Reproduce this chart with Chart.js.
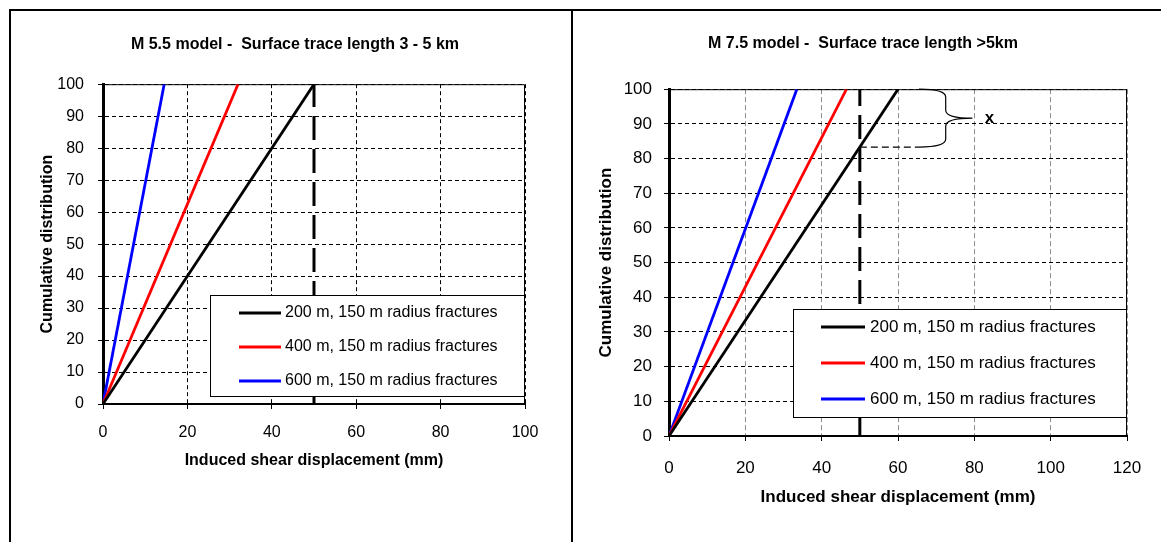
<!DOCTYPE html>
<html>
<head>
<meta charset="utf-8">
<script src="https://cdn.jsdelivr.net/npm/chart.js@4.4.1/dist/chart.umd.min.js"></script>
<style>
  html, body { margin: 0; padding: 0; background: #fff; }
  body { width: 1161px; height: 542px; position: relative; overflow: hidden; }
  canvas { position: absolute; top: 0; }
  #leftChart { left: 0; }
  #rightChart { left: 572px; }
  .rule { position: absolute; background: #000; z-index: 2; }
</style>
</head>
<body>
<div class="rule" style="left:9px;top:9px;width:1152px;height:2px"></div>
<div class="rule" style="left:9px;top:9px;width:2px;height:533px"></div>
<div class="rule" style="left:571px;top:9px;width:2px;height:533px"></div>
<canvas id="leftChart" width="572" height="542"></canvas>
<canvas id="rightChart" width="589" height="542"></canvas>
<script>
// cumulative distribution (%) at both ends of every line
const cumulative = [0, 100];
const seriesLabels = ['200 m, 150 m radius fractures', '400 m, 150 m radius fractures', '600 m, 150 m radius fractures'];
const seriesColors = ['#000000', '#ff0000', '#0000ff'];

// M 5.5 model - induced shear displacement (mm)
const m55Disp200 = [0, 50];
const m55Disp400 = [0, 32];
const m55Disp600 = [0, 14.5];

// M 7.5 model - induced shear displacement (mm)
const m75Disp200 = [0, 60];
const m75Disp400 = [0, 46.5];
const m75Disp600 = [0, 33.5];

// 50 mm limit (vertical dashed line)
const limitDisp = [50, 50];

const yTicks = [0, 10, 20, 30, 40, 50, 60, 70, 80, 90, 100];
const m55XTicks = [0, 20, 40, 60, 80, 100];
const m75XTicks = [0, 20, 40, 60, 80, 100, 120];

// brace "x" on the M 7.5 chart: share of 200 m line above the limit
const braceRange = [83.3, 100];
const braceX = [65.5, 72.5, 79.5];
const braceLabel = 'x';
const braceLabelPos = [84, 91.5];

const FONT = "'Liberation Sans', Arial, sans-serif";

function toPoints(xs, ys) {
    return xs.map((x, i) => ({ x: x, y: ys[i] }));
}

function buildDatasets(dispArrays) {
    const sets = dispArrays.map((d, i) => ({
        label: seriesLabels[i],
        data: toPoints(d, cumulative),
        borderColor: seriesColors[i],
        borderWidth: 2.8,
        pointRadius: 0,
        tension: 0,
        yAxisID: 'y'
    }));
    sets.push({
        label: 'limit',
        data: toPoints(limitDisp, cumulative),
        borderColor: '#000',
        borderWidth: 3,
        borderDash: [24, 9],
        pointRadius: 0,
        yAxisID: 'y'
    });
    return sets;
}

function drawLegend(chart, lg) {
    const { ctx, chartArea: a } = chart;
    const x0 = a.right - lg.width;
    const y0 = a.bottom - lg.bottomGap - lg.height;
    ctx.save();
    ctx.fillStyle = '#fff';
    ctx.fillRect(x0, y0, lg.width, lg.height);
    ctx.strokeStyle = '#000';
    ctx.lineWidth = 1;
    ctx.strokeRect(x0 + 0.5, y0 + 0.5, lg.width - 1, lg.height - 1);
    ctx.font = lg.fontSize + 'px ' + FONT;
    ctx.textBaseline = 'middle';
    seriesLabels.forEach((label, i) => {
        const y = y0 + lg.firstRow + i * lg.rowGap;
        ctx.strokeStyle = seriesColors[i];
        ctx.lineWidth = 3;
        ctx.beginPath();
        ctx.moveTo(x0 + lg.lineStart, y);
        ctx.lineTo(x0 + lg.lineEnd, y);
        ctx.stroke();
        ctx.fillStyle = '#000';
        ctx.fillText(label, x0 + lg.textStart, y);
    });
    ctx.restore();
}

function drawBrace(chart) {
    const { ctx, scales: { x, y } } = chart;
    const xl = x.getPixelForValue(limitDisp[0]);
    const x0 = x.getPixelForValue(braceX[0]);
    const x1 = x.getPixelForValue(braceX[1]);
    const x2 = x.getPixelForValue(braceX[2]);
    const yB = y.getPixelForValue(braceRange[0]);
    const yT = y.getPixelForValue(braceRange[1]);
    const yM = (yT + yB) / 2;
    const r = 8;
    ctx.save();
    ctx.strokeStyle = '#000';
    ctx.lineWidth = 1.2;
    ctx.setLineDash([7, 4]);
    ctx.beginPath();
    ctx.moveTo(xl, yB);
    ctx.lineTo(x0, yB);
    ctx.stroke();
    ctx.setLineDash([]);
    ctx.beginPath();
    ctx.moveTo(x0, yT);
    ctx.quadraticCurveTo(x1, yT, x1, yT + r);
    ctx.lineTo(x1, yM - r);
    ctx.quadraticCurveTo(x1, yM, x2, yM);
    ctx.quadraticCurveTo(x1, yM, x1, yM + r);
    ctx.lineTo(x1, yB - r);
    ctx.quadraticCurveTo(x1, yB, x0, yB);
    ctx.stroke();
    ctx.fillStyle = '#000';
    ctx.font = 'bold 17px ' + FONT;
    ctx.textAlign = 'center';
    ctx.textBaseline = 'middle';
    ctx.fillText(braceLabel, x.getPixelForValue(braceLabelPos[0]), y.getPixelForValue(braceLabelPos[1]));
    ctx.restore();
}

// thin frame on top/right of the plot, legend box and annotation
const panelPlugin = {
    id: 'panel',
    beforeDatasetsDraw(chart) {
        const { ctx, chartArea: a } = chart;
        ctx.save();
        ctx.strokeStyle = '#000';
        ctx.lineWidth = 1;
        ctx.beginPath();
        ctx.moveTo(a.left, a.top + 0.5);
        ctx.lineTo(a.right - 0.5, a.top + 0.5);
        ctx.lineTo(a.right - 0.5, a.bottom);
        ctx.stroke();
        ctx.restore();
    },
    afterDatasetsDraw(chart, args, opts) {
        if (opts.brace) drawBrace(chart);
        drawLegend(chart, opts.legend);
    }
};

function makeChart(id, cfg) {
    return new Chart(document.getElementById(id), {
        type: 'line',
        data: { datasets: buildDatasets(cfg.disp) },
        plugins: [panelPlugin],
        options: {
            responsive: false,
            animation: false,
            devicePixelRatio: 1,
            layout: { padding: { left: cfg.padLeft, right: cfg.padRight, top: 0, bottom: 0 } },
            plugins: {
                legend: { display: false },
                tooltip: { enabled: false },
                title: {
                    display: true,
                    text: cfg.title,
                    color: '#000',
                    font: { family: FONT, size: cfg.titleSize, weight: 'bold' },
                    padding: { top: cfg.titlePad[0], bottom: cfg.titlePad[1] }
                },
                panel: { legend: cfg.legend, brace: cfg.brace }
            },
            scales: {
                x: {
                    type: 'linear',
                    min: 0,
                    max: cfg.xTicks[cfg.xTicks.length - 1],
                    afterBuildTicks: s => { s.ticks = cfg.xTicks.map(v => ({ value: v })); },
                    afterFit: s => { s.height = cfg.xHeight; },
                    grid: { color: cfg.xGridColor, lineWidth: 1, tickLength: 5, tickColor: '#000', tickWidth: 1 },
                    border: { color: '#000', width: 2, dash: cfg.xGridDash },
                    ticks: { color: '#000', padding: cfg.xTickPad, autoSkip: false, maxRotation: 0, font: { family: FONT, size: cfg.tickSize } },
                    title: {
                        display: true,
                        text: 'Induced shear displacement (mm)',
                        color: '#000',
                        font: { family: FONT, size: cfg.axisTitleSize, weight: 'bold' },
                        padding: { top: 0, bottom: cfg.xTitlePad }
                    }
                },
                y: {
                    type: 'linear',
                    position: 'left',
                    min: 0,
                    max: 100,
                    afterBuildTicks: s => { s.ticks = yTicks.map(v => ({ value: v })); },
                    afterFit: s => { s.width = cfg.yWidth; },
                    grid: { color: '#000', lineWidth: 1, tickLength: 5, tickColor: '#000', tickWidth: 1 },
                    border: { color: '#000', width: 3, dash: [4, 3] },
                    ticks: { color: '#000', padding: cfg.yTickPad, autoSkip: false, font: { family: FONT, size: cfg.tickSize } },
                    title: {
                        display: true,
                        text: 'Cumulative distribution',
                        color: '#000',
                        font: { family: FONT, size: cfg.axisTitleSize, weight: 'bold' },
                        padding: { top: cfg.yTitlePad, bottom: 0 }
                    }
                },
                // empty box on the right so the title centres like the original
                yFill: {
                    type: 'linear',
                    axis: 'y',
                    position: 'right',
                    display: true,
                    grid: { display: false },
                    border: { display: false },
                    ticks: { display: false },
                    afterFit: s => { s.width = cfg.rightGap; }
                }
            }
        }
    });
}

makeChart('leftChart', {
    disp: [m55Disp200, m55Disp400, m55Disp600],
    title: 'M 5.5 model -  Surface trace length 3 - 5 km',
    titleSize: 16,
    titlePad: [35, 30],
    padLeft: 18,
    padRight: 0,
    yWidth: 85,
    rightGap: 47,
    xHeight: 138,
    xTicks: m55XTicks,
    xGridColor: '#000',
    xGridDash: [4, 3],
    tickSize: 16,
    axisTitleSize: 16,
    xTickPad: 14,
    yTickPad: 14,
    xTitlePad: 72,
    yTitlePad: 20,
    brace: false,
    legend: { width: 315, height: 102, bottomGap: 7, firstRow: 18, rowGap: 34, lineStart: 29, lineEnd: 71, textStart: 75, fontSize: 16 }
});

makeChart('rightChart', {
    disp: [m75Disp200, m75Disp400, m75Disp600],
    title: 'M 7.5 model -  Surface trace length >5km',
    titleSize: 16,
    titlePad: [34, 36],
    padLeft: 0,
    padRight: 7,
    yWidth: 97,
    rightGap: 27,
    xHeight: 106,
    xTicks: m75XTicks,
    xGridColor: '#8c8c8c',
    xGridDash: [5, 3],
    tickSize: 17,
    axisTitleSize: 17,
    xTickPad: 17,
    yTickPad: 12,
    xTitlePad: 34,
    yTitlePad: 24,
    brace: true,
    legend: { width: 334, height: 109, bottomGap: 18, firstRow: 18, rowGap: 36, lineStart: 28, lineEnd: 72, textStart: 77, fontSize: 17 }
});
</script>
</body>
</html>
